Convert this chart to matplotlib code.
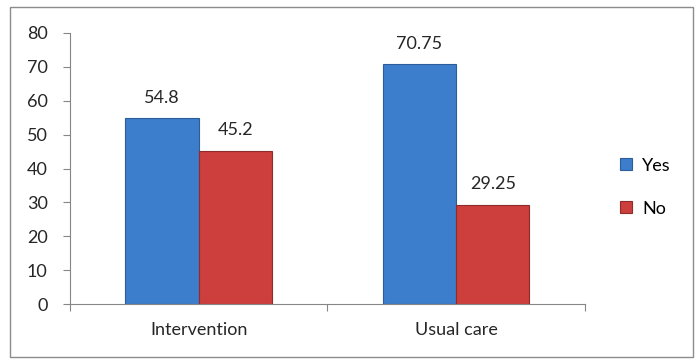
import numpy as np
import matplotlib.pyplot as plt
from matplotlib.patches import Rectangle

# chart data
groups = ["Intervention", "Usual care"]
yes_vals = [54.8, 70.75]
no_vals = [45.2, 29.25]
yes_labels = ["54.8", "70.75"]
no_labels = ["45.2", "29.25"]

plt.rcParams['font.family'] = ['Lato', 'DejaVu Sans']

fig = plt.figure(figsize=(6.97, 3.62), dpi=100)
ax = fig.add_axes([0.1004, 0.160, 0.7386, 0.749])

# outer frame around the chart area
fig.patches.append(Rectangle((10 / 697, 5 / 362), 683 / 697, 350 / 362,
                             transform=fig.transFigure, fill=False,
                             edgecolor='#8c8c8c', linewidth=1.0))

x = np.arange(len(groups))
w = 0.285
blue = '#3c7dcc'
red = '#cc3f3c'
b1 = ax.bar(x - w / 2, yes_vals, w, color=blue, edgecolor='#2c5d99', linewidth=0.8, label='Yes')
b2 = ax.bar(x + w / 2, no_vals, w, color=red, edgecolor='#8f2c2a', linewidth=0.8, label='No')

fs = 13
for bars, labs in ((b1, yes_labels), (b2, no_labels)):
    for r, t in zip(bars, labs):
        ax.annotate(t, (r.get_x() + r.get_width() / 2, r.get_height()),
                    xytext=(0, 9), textcoords='offset points',
                    ha='center', va='bottom', fontsize=fs, color='#262626')

ax.set_xlim(-0.5, 1.5)
ax.set_ylim(0, 80)
ax.set_yticks(np.arange(0, 81, 10))
ax.set_xticks([-0.5, 0.5, 1.5])
ax.set_xticklabels([])
ax.set_xticks(x, minor=True)
ax.set_xticklabels(groups, minor=True)
ax.tick_params(axis='x', which='minor', length=0, pad=13, labelsize=fs, labelcolor='#262626')
ax.tick_params(axis='x', which='major', length=5, color='#868686')
ax.tick_params(axis='y', length=5, color='#868686', labelsize=fs, pad=11, labelcolor='#262626')

for s in ['top', 'right']:
    ax.spines[s].set_visible(False)
for s in ['left', 'bottom']:
    ax.spines[s].set_color('#868686')

ax.legend(loc='center left', bbox_to_anchor=(0.866, 0.483), bbox_transform=fig.transFigure,
          frameon=False, fontsize=fs, handlelength=0.65, handleheight=0.65,
          labelspacing=1.5, handletextpad=0.6)

fig.savefig('out.png', dpi=100)
